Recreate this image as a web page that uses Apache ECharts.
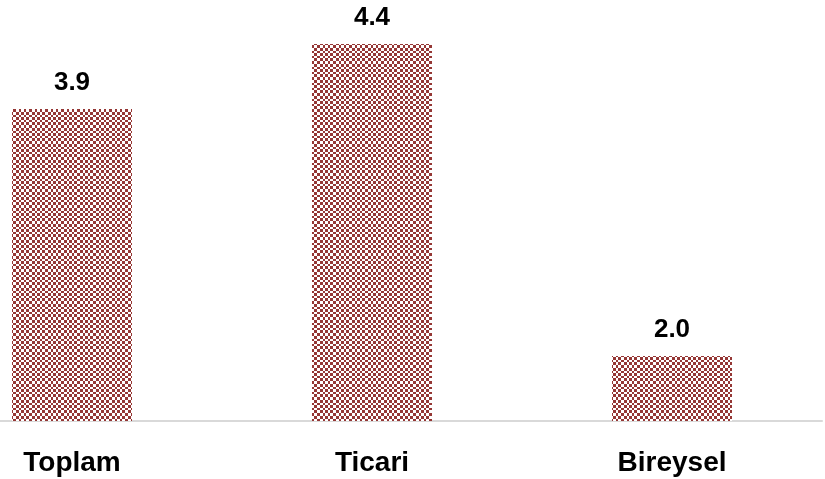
<!DOCTYPE html>
<html>
<head>
<meta charset="utf-8">
<script src="https://cdn.jsdelivr.net/npm/echarts@6/dist/echarts.min.js"></script>
<style>
  html, body { margin: 0; padding: 0; background: #fff; }
  #chart { width: 825px; height: 479px; }
</style>
</head>
<body>
<div id="chart"></div>
<script>
const categories = ['Toplam', 'Ticari', 'Bireysel']
const values = [3.9, 4.4, 2.0]

// checker tile with uneven cells, like a scaled Excel pattern fill
function makePattern(color) {
  const sizes = [3, 2, 3, 2, 3, 3]
  const total = sizes.reduce((a, b) => a + b, 0)
  const c = document.createElement('canvas')
  c.width = total
  c.height = total
  const ctx = c.getContext('2d')
  ctx.fillStyle = '#fff'
  ctx.fillRect(0, 0, total, total)
  ctx.fillStyle = color
  let y = 0
  sizes.forEach((h, r) => {
    let x = 0
    sizes.forEach((w, k) => {
      if ((r + k) % 2 === 0) ctx.fillRect(x, y, w, h)
      x += w
    })
    y += h
  })
  return c
}

const chart = echarts.init(document.getElementById('chart'))
chart.setOption({
  animation: false,
  grid: { left: -78, width: 900, top: 31, bottom: 58, outerBoundsMode: 'none', containLabel: false },
  xAxis: {
    type: 'category',
    data: categories,
    axisLine: { lineStyle: { color: '#d9d9d9', width: 2 } },
    axisTick: { show: false },
    axisLabel: {
      color: '#000',
      fontFamily: 'Liberation Sans, Arial, sans-serif',
      fontWeight: 'bold',
      fontSize: 28,
      margin: 28
    }
  },
  yAxis: {
    type: 'value',
    min: 1.5,
    max: 4.5,
    show: false,
    splitLine: { show: false }
  },
  series: [
    {
      type: 'bar',
      data: values,
      barWidth: 120,
      itemStyle: {
        color: { image: makePattern('#953735'), repeat: 'repeat' }
      },
      label: {
        show: true,
        position: 'top',
        distance: 13,
        color: '#000',
        fontFamily: 'Liberation Sans, Arial, sans-serif',
        fontWeight: 'bold',
        fontSize: 26,
        formatter: p => p.value.toFixed(1)
      }
    }
  ]
})
</script>
</body>
</html>
